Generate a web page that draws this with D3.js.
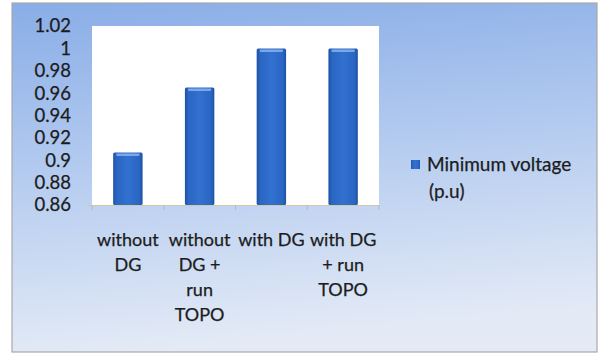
<!DOCTYPE html>
<html>
<head>
<meta charset="utf-8">
<script src="https://cdn.jsdelivr.net/npm/d3@7/dist/d3.min.js"></script>
<style>
  html, body { margin: 0; padding: 0; background: #ffffff; }
  svg { display: block; }
</style>
</head>
<body>
<svg id="chart" width="600" height="354"></svg>
<script>
// Data
const categories = [
  ["without", "DG"],
  ["without", "DG +", "run", "TOPO"],
  ["with DG"],
  ["with DG", "+ run", "TOPO"]
];
const seriesName = ["Minimum voltage", "(p.u)"];
const minVoltage = [0.907, 0.965, 1.0, 1.0];
const yTicks = [0.86, 0.88, 0.9, 0.92, 0.94, 0.96, 0.98, 1, 1.02];

const svg = d3.select("#chart");
const font = "Lato, 'Open Sans', sans-serif";
const ink = "#1c1c1c";

const defs = svg.append("defs");
const bg = defs.append("linearGradient").attr("id", "bg")
  .attr("x1", 0).attr("y1", 0).attr("x2", 0.15).attr("y2", 1);
bg.append("stop").attr("offset", "0%").attr("stop-color", "#89ade7");
bg.append("stop").attr("offset", "45%").attr("stop-color", "#b1c9ef");
bg.append("stop").attr("offset", "100%").attr("stop-color", "#e3eaf6");

const barGrad = defs.append("linearGradient").attr("id", "bar")
  .attr("x1", 0).attr("y1", 0).attr("x2", 1).attr("y2", 0);
barGrad.append("stop").attr("offset", "0%").attr("stop-color", "#1d52a4");
barGrad.append("stop").attr("offset", "12%").attr("stop-color", "#2a66c3");
barGrad.append("stop").attr("offset", "50%").attr("stop-color", "#3271d0");
barGrad.append("stop").attr("offset", "88%").attr("stop-color", "#2a66c3");
barGrad.append("stop").attr("offset", "100%").attr("stop-color", "#1d52a4");

// Chart area background and border
svg.append("rect")
  .attr("x", 12).attr("y", 3).attr("width", 585).attr("height", 349)
  .attr("fill", "url(#bg)")
  .attr("stroke", "#a9a9a9").attr("stroke-width", 1.2);

const plot = { left: 92, right: 379, top: 26, bottom: 205 };

const x = d3.scaleBand()
  .domain(d3.range(categories.length))
  .range([plot.left, plot.right])
  .paddingInner(0.59).paddingOuter(0.295);

const y = d3.scaleLinear().domain([0.86, 1.02]).range([plot.bottom, plot.top]);

// Plot area
svg.append("rect")
  .attr("x", plot.left).attr("y", plot.top)
  .attr("width", plot.right - plot.left).attr("height", plot.bottom - plot.top)
  .attr("fill", "#ffffff");

// Bars
const bars = svg.append("g");
bars.selectAll("rect.bar").data(minVoltage).join("rect")
  .attr("class", "bar")
  .attr("x", (d, i) => x(i))
  .attr("y", d => y(d))
  .attr("width", x.bandwidth())
  .attr("height", d => y(0.86) - y(d))
  .attr("rx", 1.5)
  .attr("fill", "url(#bar)");
// top highlight on each bar
bars.selectAll("rect.hl").data(minVoltage).join("rect")
  .attr("class", "hl")
  .attr("x", (d, i) => x(i) + 3)
  .attr("y", d => y(d) + 1)
  .attr("width", x.bandwidth() - 6)
  .attr("height", 2.5)
  .attr("rx", 1.2)
  .attr("fill", "#8fb6ee").attr("opacity", 0.8);

// Y axis
const yAxis = svg.append("g")
  .attr("transform", `translate(${plot.left},0)`)
  .call(d3.axisLeft(y).tickValues(yTicks).tickFormat(d => String(+d.toFixed(2))).tickSize(0).tickPadding(21));
yAxis.select(".domain").remove();
yAxis.selectAll("text")
  .attr("font-family", font).attr("font-size", 18.5).attr("fill", ink)
  .attr("stroke", ink).attr("stroke-width", 0.25);

// X axis line and category dividers
const xAxis = svg.append("g");
xAxis.append("line")
  .attr("x1", plot.left - 4).attr("x2", plot.right)
  .attr("y1", plot.bottom + 0.5).attr("y2", plot.bottom + 0.5)
  .attr("stroke", "#cfc9a6").attr("stroke-width", 1.2);
const step = x.step();
xAxis.selectAll("line.tick").data(d3.range(categories.length + 1)).join("line")
  .attr("class", "tick")
  .attr("x1", i => plot.left + i * step).attr("x2", i => plot.left + i * step)
  .attr("y1", plot.bottom).attr("y2", plot.bottom + 5)
  .attr("stroke", "#b8b8b8");

// Category labels
const labels = xAxis.selectAll("text.cat").data(categories).join("text")
  .attr("class", "cat")
  .attr("text-anchor", "middle")
  .attr("font-family", font).attr("font-size", 18).attr("fill", ink)
  .attr("stroke", ink).attr("stroke-width", 0.25);
labels.each(function (lines, i) {
  const t = d3.select(this);
  lines.forEach((ln, k) => {
    t.append("tspan")
      .attr("x", x(i) + x.bandwidth() / 2)
      .attr("y", 246 + k * 25)
      .text(ln);
  });
});

// Legend
const legend = svg.append("g");
legend.append("rect")
  .attr("x", 411).attr("y", 160).attr("width", 9).attr("height", 9)
  .attr("fill", "url(#bar)");
legend.selectAll("text").data(seriesName).join("text")
  .attr("x", (d, i) => i === 0 ? 427 : 429)
  .attr("y", (d, i) => 171 + i * 27)
  .attr("font-family", font).attr("font-size", 19).attr("fill", ink)
  .attr("stroke", ink).attr("stroke-width", 0.25)
  .text(d => d);
</script>
</body>
</html>
